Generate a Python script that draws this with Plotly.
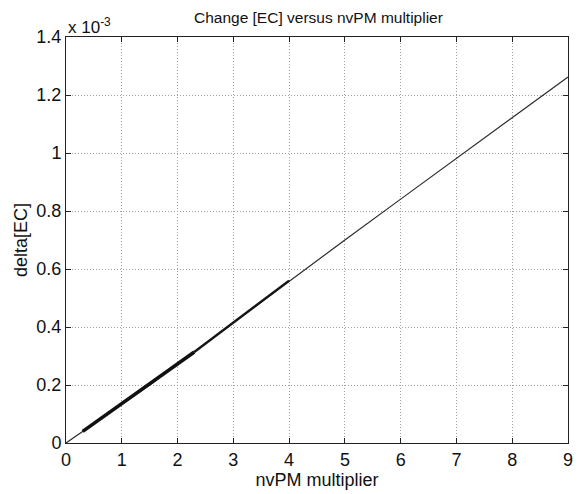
import plotly.graph_objects as go

# Data (y in absolute units)
x_line = [0, 0.3, 1.0, 1.5, 2.0, 3.0, 4.0, 5.0, 6.0, 7.0, 8.0, 9.0]
y_line = [0, 0.040e-3, 0.135e-3, 0.200e-3, 0.272e-3, 0.415e-3, 0.560e-3, 0.700e-3, 0.841e-3, 0.982e-3, 1.122e-3, 1.262e-3]

# dense (overplotted) part of the curve
x_band_thick = [0.3, 0.8, 1.2, 1.6, 2.0, 2.3]
y_band_thick = [0.040e-3, 0.108e-3, 0.162e-3, 0.216e-3, 0.272e-3, 0.314e-3]
x_band_mid = [2.3, 3.0, 3.5, 4.0]
y_band_mid = [0.314e-3, 0.415e-3, 0.487e-3, 0.560e-3]

x_ticks = [0, 1, 2, 3, 4, 5, 6, 7, 8, 9]
y_ticks = [0, 0.2e-3, 0.4e-3, 0.6e-3, 0.8e-3, 1.0e-3, 1.2e-3, 1.4e-3]
y_ticklabels = ["0", "0.2", "0.4", "0.6", "0.8", "1", "1.2", "1.4"]

FONT = "Liberation Sans, Arial"

fig = go.Figure()
fig.add_trace(go.Scatter(x=x_line, y=y_line, mode="lines",
                         line=dict(color="#2a2a2a", width=1.2), showlegend=False))
fig.add_trace(go.Scatter(x=x_band_mid, y=y_band_mid, mode="lines",
                         line=dict(color="#151515", width=2.4), showlegend=False))
fig.add_trace(go.Scatter(x=x_band_thick, y=y_band_thick, mode="lines",
                         line=dict(color="#111111", width=3.6), showlegend=False))

axis_common = dict(
    showline=True, linecolor="#222222", linewidth=1, mirror="allticks",
    ticks="inside", ticklen=5, tickcolor="#222222",
    showgrid=True, gridcolor="#a0a0a0", griddash="1px,2px", gridwidth=1,
    zeroline=False,
    tickfont=dict(family=FONT, size=18, color="#111111"),
)

fig.update_xaxes(range=[0, 9], tickvals=x_ticks, ticktext=[str(v) for v in x_ticks],
                 title=dict(text="nvPM multiplier", font=dict(family=FONT, size=18, color="#111111"), standoff=2),
                 **axis_common)
fig.update_yaxes(range=[0, 1.4e-3], tickvals=y_ticks, ticktext=y_ticklabels,
                 title=dict(text="delta[EC]", font=dict(family=FONT, size=18, color="#111111"), standoff=4),
                 **axis_common)

fig.update_layout(
    width=579, height=494,
    margin=dict(l=66, r=6, t=37, b=51),
    plot_bgcolor="white", paper_bgcolor="white",
    title=dict(text="Change [EC] versus nvPM multiplier", x=0.55, xanchor="center",
               y=0.965, yanchor="middle",
               font=dict(family=FONT, size=15.5, color="#111111")),
    annotations=[dict(text="x 10<sup>-3</sup>", xref="paper", yref="paper", x=0, y=1,
                      xanchor="left", yanchor="bottom", showarrow=False, yshift=-2,
                      font=dict(family=FONT, size=17, color="#111111"))],
)

fig.write_html("out.html")
